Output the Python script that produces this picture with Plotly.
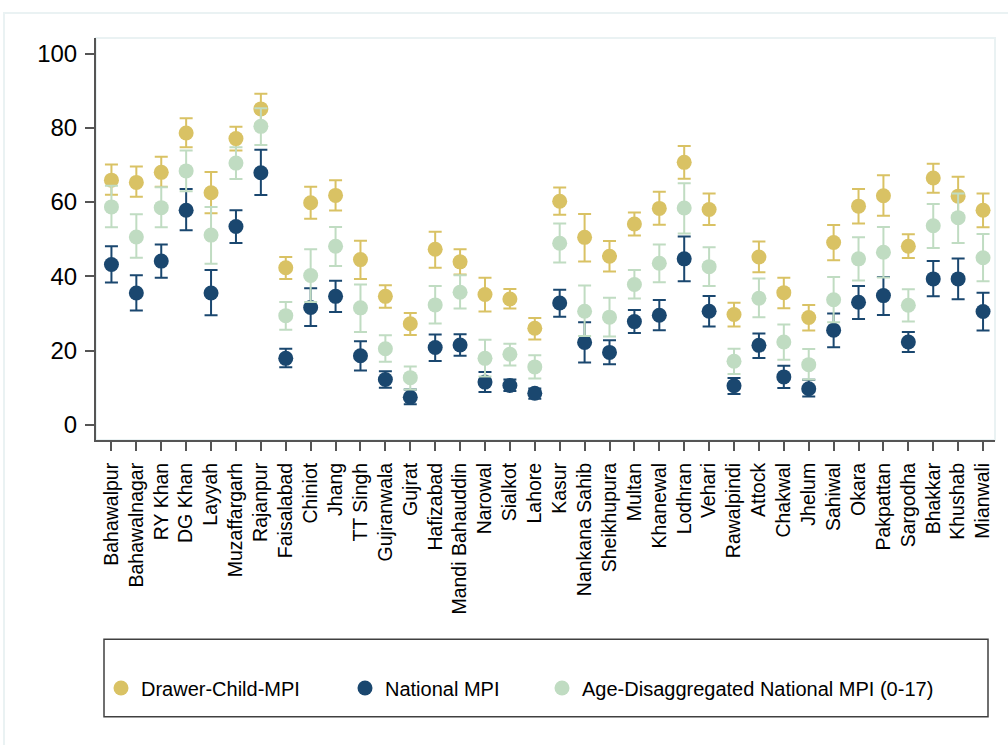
import plotly.graph_objects as go

# Punjab districts, in plotting order
districts = ["Bahawalpur", "Bahawalnagar", "RY Khan", "DG Khan", "Layyah", "Muzaffargarh",
             "Rajanpur", "Faisalabad", "Chiniot", "Jhang", "TT Singh", "Gujranwala", "Gujrat",
             "Hafizabad", "Mandi Bahauddin", "Narowal", "Sialkot", "Lahore", "Kasur",
             "Nankana Sahib", "Sheikhupura", "Multan", "Khanewal", "Lodhran", "Vehari",
             "Rawalpindi", "Attock", "Chakwal", "Jhelum", "Sahiwal", "Okara", "Pakpattan",
             "Sargodha", "Bhakkar", "Khushab", "Mianwali"]

# Drawer-Child-MPI: estimate with lower / upper confidence bounds
drawer = [65.9, 65.3, 68.0, 78.6, 62.5, 77.1, 85.1, 42.3, 59.8, 61.8, 44.5, 34.6, 27.2, 47.3,
          43.9, 35.1, 33.9, 26.0, 60.2, 50.5, 45.4, 54.1, 58.3, 70.7, 58.0, 29.7, 45.2, 35.6,
          28.9, 49.1, 58.9, 61.7, 48.1, 66.5, 61.6, 57.8]
drawer_lo = [62.0, 61.4, 64.1, 74.8, 57.0, 73.9, 81.1, 39.3, 55.5, 57.7, 39.3, 31.5, 24.2, 42.3,
             40.5, 30.5, 31.3, 23.0, 56.6, 44.0, 41.3, 51.0, 53.9, 66.3, 53.8, 26.5, 41.1, 31.4,
             25.4, 44.3, 54.2, 56.3, 44.9, 62.5, 56.3, 53.2]
drawer_hi = [70.1, 69.6, 72.2, 82.6, 68.1, 80.3, 89.2, 45.2, 64.1, 65.9, 49.6, 37.6, 30.1, 52.0,
             47.3, 39.6, 36.6, 28.8, 63.9, 56.8, 49.5, 57.2, 62.8, 75.1, 62.3, 32.9, 49.4, 39.6,
             32.3, 53.8, 63.5, 67.2, 51.3, 70.3, 66.8, 62.3]

# National MPI
national = [43.2, 35.5, 44.1, 57.8, 35.5, 53.4, 67.9, 17.9, 31.6, 34.6, 18.6, 12.2, 7.4, 20.8,
            21.5, 11.5, 10.6, 8.5, 32.8, 22.2, 19.5, 27.8, 29.5, 44.7, 30.6, 10.5, 21.4, 12.9,
            9.7, 25.5, 33.0, 34.8, 22.3, 39.3, 39.3, 30.5]
national_lo = [38.3, 30.8, 39.6, 52.4, 29.5, 49.0, 61.9, 15.5, 26.6, 30.4, 14.6, 10.0, 5.5, 17.2,
               18.6, 8.8, 9.1, 7.0, 29.1, 16.8, 16.3, 24.7, 25.5, 38.7, 26.5, 8.3, 18.0, 9.9,
               7.6, 20.9, 28.5, 29.6, 19.6, 34.6, 33.8, 25.4]
national_hi = [48.1, 40.3, 48.6, 63.5, 41.7, 57.8, 74.1, 20.5, 36.8, 38.8, 22.5, 14.4, 9.5, 24.3,
               24.4, 14.2, 12.2, 9.8, 36.4, 27.6, 22.8, 30.9, 33.6, 50.7, 34.7, 12.6, 24.6, 15.9,
               12.1, 30.0, 37.4, 39.8, 25.0, 44.1, 44.8, 35.6]

# Age-disaggregated national MPI (0-17)
age = [58.7, 50.6, 58.5, 68.4, 51.1, 70.5, 80.4, 29.4, 40.2, 48.1, 31.5, 20.5, 12.7, 32.3,
       35.7, 17.9, 19.0, 15.6, 48.9, 30.6, 29.0, 37.8, 43.5, 58.4, 42.6, 17.1, 34.1, 22.3,
       16.2, 33.7, 44.7, 46.5, 32.2, 53.6, 55.8, 45.0]
age_lo = [53.2, 45.0, 53.2, 62.9, 43.4, 66.2, 75.4, 25.6, 33.1, 42.8, 25.0, 17.0, 9.5, 27.3,
          31.3, 13.0, 16.0, 12.5, 43.7, 23.9, 23.8, 34.0, 38.4, 51.5, 37.4, 13.7, 29.0, 17.5,
          12.2, 27.6, 38.9, 39.7, 27.8, 47.6, 49.0, 38.7]
age_hi = [64.4, 56.7, 64.0, 73.9, 58.7, 74.8, 85.3, 33.1, 47.3, 53.3, 37.8, 24.1, 15.7, 37.4,
          40.3, 22.9, 21.8, 18.7, 54.2, 37.5, 34.2, 41.7, 48.6, 65.1, 47.8, 20.5, 39.4, 27.0,
          20.4, 39.8, 50.5, 53.3, 36.5, 59.5, 62.3, 51.4]

y_ticks = [0, 20, 40, 60, 80, 100]

FONT = "Liberation Sans, Arial, sans-serif"
GOLD = "#d9c264"
NAVY = "#1a476f"
MINT = "#c0dcc2"
FRAME = "#eaf2f3"
AXIS = "#555555"

xs = list(range(len(districts)))

W, H = 1008, 745
L, R, T, B = 96, 13, 38, 305
pw, ph = W - L - R, H - T - B


def px_x(px):
    return (px - L) / pw


def px_y(py):
    return (H - B - py) / ph


# (name, values, lower, upper, colour, legend id, legend left edge in px)
series = [
    ("Drawer-Child-MPI", drawer, drawer_lo, drawer_hi, GOLD, "legend", 101),
    ("National MPI", national, national_lo, national_hi, NAVY, "legend2", 345),
    ("Age-Disaggregated National MPI (0-17)", age, age_lo, age_hi, MINT, "legend3", 542),
]

fig = go.Figure()
legends = {}
for name, vals, lo, hi, color, leg, leg_x in series:
    fig.add_trace(go.Scatter(
        x=xs, y=vals, name=name, mode="markers", legend=leg,
        marker=dict(color=color, size=15, line=dict(width=0)),
        error_y=dict(type="data", symmetric=False,
                     array=[h - v for h, v in zip(hi, vals)],
                     arrayminus=[v - l for v, l in zip(vals, lo)],
                     color=color, thickness=2, width=6.5),
    ))
    legends[leg] = dict(orientation="h", x=px_x(leg_x), xanchor="left",
                        y=px_y(688), yanchor="middle",
                        font=dict(size=20, family=FONT, color="black"),
                        bgcolor="rgba(0,0,0,0)", borderwidth=0)

shapes = [
    # outer graph-region frame
    dict(type="rect", xref="paper", yref="paper", layer="below",
         x0=px_x(4), x1=px_x(1020), y0=px_y(760), y1=px_y(13),
         line=dict(color=FRAME, width=2), fillcolor="rgba(0,0,0,0)"),
    # plot-region frame
    dict(type="rect", xref="paper", yref="paper", layer="below",
         x0=0, x1=1, y0=0, y1=1,
         line=dict(color=FRAME, width=2), fillcolor="rgba(0,0,0,0)"),
    # legend box
    dict(type="rect", xref="paper", yref="paper",
         x0=px_x(104), x1=px_x(988), y0=px_y(716.7), y1=px_y(639.3),
         line=dict(color="#404040", width=1.5), fillcolor="rgba(0,0,0,0)"),
]

fig.update_layout(
    width=W, height=H,
    margin=dict(l=L, r=R, t=T, b=B),
    paper_bgcolor="white", plot_bgcolor="white",
    font=dict(family=FONT, color="black"),
    shapes=shapes,
    showlegend=True,
    **legends,
    xaxis=dict(range=[-0.62, 35.48], tickmode="array", tickvals=xs, ticktext=districts,
               tickangle=-90, tickfont=dict(size=19.5, family=FONT, color="black"),
               ticks="outside", ticklen=9, tickwidth=1.5, tickcolor=AXIS,
               showline=True, linecolor=AXIS, linewidth=2, showgrid=False, zeroline=False,
               ticklabelstandoff=4),
    yaxis=dict(range=[-4.1, 104.2], tickmode="array", tickvals=y_ticks,
               tickfont=dict(size=24, family=FONT, color="black"),
               ticks="outside", ticklen=9, tickwidth=1.5, tickcolor=AXIS,
               showline=True, linecolor=AXIS, linewidth=2, showgrid=False, zeroline=False,
               ticklabelstandoff=3),
)

fig.write_html("out.html")
